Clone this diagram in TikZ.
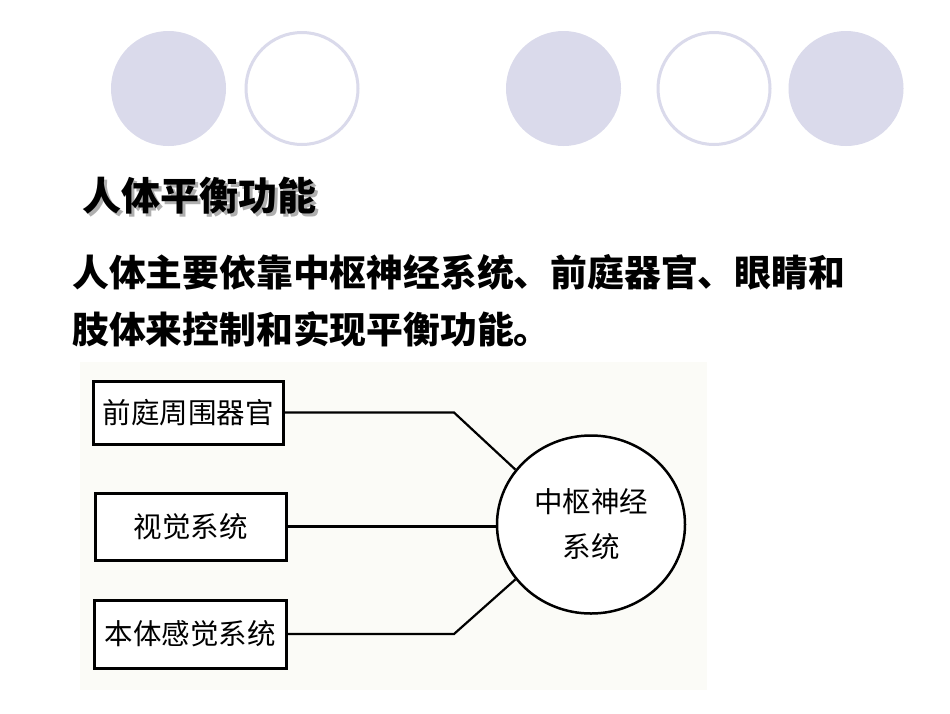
\documentclass[tikz,border=0pt]{standalone}
\usepackage{fontspec}
\newfontfamily\cjk{Noto Sans CJK SC}
\usetikzlibrary{shapes.geometric}
\definecolor{lav}{RGB}{218,218,235}
\definecolor{paperbg}{RGB}{251,251,247}
\definecolor{shadowgray}{RGB}{175,175,175}
\tikzset{
  deco/.style={fill=lav},
  decoring/.style={draw=lav, line width=3pt, fill=white},
  titletext/.style={inner sep=0pt, anchor=west, font=\cjk\bfseries\fontsize{39}{47}\selectfont},
  bodytext/.style={inner sep=0pt, anchor=west, font=\cjk\bfseries\fontsize{36.8}{44}\selectfont},
  boxnode/.style={draw, line width=3pt, inner sep=0pt, fill=white, font=\cjk\fontsize{28.5}{34}\selectfont},
  link/.style={line width=2.2pt},
}
\begin{document}
\begin{tikzpicture}[x=1pt,y=-1pt]
\useasboundingbox (0,0) rectangle (950,713);
\fill[white] (0,0) rectangle (950,713);
% decorative circles
\fill[deco] (168.5,88.5) circle (57.5);
\draw[decoring] (302,88.5) circle (56);
\fill[deco] (563.5,88.5) circle (57.5);
\draw[decoring] (714,88.5) circle (56);
\fill[deco] (846,88.5) circle (57.5);
% title with shadow
\node[titletext] (title) at (82,197) {\rlap{\hspace{3pt}\raisebox{-3pt}{\textcolor{shadowgray}{人体平衡功能}}}人体平衡功能};
% body
\node[bodytext] (line1) at (72,272) {人体主要依靠中枢神经系统、前庭器官、眼睛和};
\node[bodytext] (line2) at (72,329) {肢体来控制和实现平衡功能。};
% diagram background
\fill[paperbg] (80,362) rectangle (707,690);
% boxes
\node[boxnode, minimum width=190pt, minimum height=63pt] (b1) at (188,412.5) {前庭周围器官};
\node[boxnode, minimum width=191pt, minimum height=67pt] (b2) at (190.5,526.5) {视觉系统};
\node[boxnode, minimum width=192pt, minimum height=68pt] (b3) at (190,634) {本体感觉系统};
% central ellipse
\node[ellipse, draw, line width=2.5pt, fill=white, inner sep=0pt,
      minimum width=188pt, minimum height=178pt,
      align=center, font=\cjk\fontsize{28.5}{45}\selectfont] (c) at (591,524.5) {中枢神经\\系统};
% connectors
\coordinate (k1) at (454,412.5);
\coordinate (k3) at (454,634);
\draw[link] (b1.east) -- (k1) -- (c.144);
\draw[link] (b2.east) -- (b2.east -| c.west);
\draw[link] (b3.east) -- (k3) -- (c.216);
\end{tikzpicture}
\end{document}
